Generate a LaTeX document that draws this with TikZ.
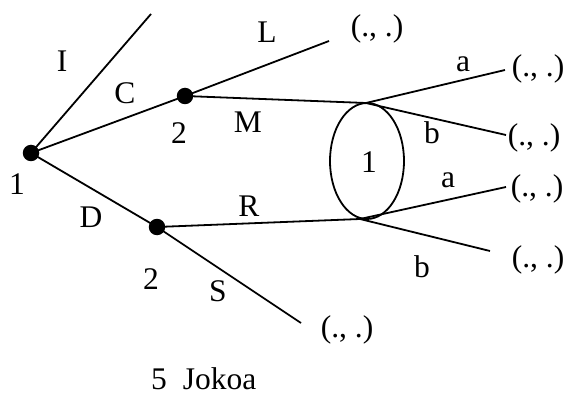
\documentclass[tikz,border=0pt]{standalone}
\usepackage{fontspec}
\setmainfont{Liberation Serif}
\usetikzlibrary{shapes.geometric}
\begin{document}
\begin{tikzpicture}[x=1pt,y=-1pt,
  edge/.style={line width=1.8pt},
  dot/.style={circle,fill=black,inner sep=0pt,minimum size=16.5pt},
  lab/.style={inner sep=0pt,anchor=base,font=\fontsize{31.5}{34}\selectfont},
  pay/.style={inner sep=0pt,anchor=center,font=\fontsize{31.5}{34}\selectfont}]
\useasboundingbox (0,0) rectangle (566,396);
% decision nodes
\node[dot] (r) at (31,153) {};
\node[dot] (p2a) at (185,96) {};
\node[dot] (p2b) at (157,227) {};
\coordinate (t1) at (366,103);
\coordinate (t2) at (360,219);
\node[draw,ellipse,line width=1.8pt,minimum width=74pt,minimum height=116pt,inner sep=0pt] (info) at (367,161) {};
% free ends
\coordinate (eI) at (151,14);
\coordinate (eL) at (329,41);
\coordinate (eS) at (301,323);
\coordinate (ea1) at (505,70);
\coordinate (eb1) at (506,135);
\coordinate (ea2) at (506,187);
\coordinate (eb2) at (490,251);
% edges
\draw[edge] (r.center) -- (eI);
\draw[edge] (r.center) -- (p2a.center);
\draw[edge] (r.center) -- (p2b.center);
\draw[edge] (p2a.center) -- (eL);
\draw[edge] (p2a.center) -- (t1);
\draw[edge] (p2b.center) -- (t2);
\draw[edge] (p2b.center) -- (eS);
\draw[edge] (t1) -- (ea1);
\draw[edge] (t1) -- (eb1);
\draw[edge] (t2) -- (ea2);
\draw[edge] (t2) -- (eb2);
% labels
\node[lab] (lI) at (62,72) {I};
\node[lab] (lC) at (125,104) {C};
\node[lab] (lL) at (267,43) {L};
\node[lab] (l2a) at (179,143) {2};
\node[lab] (lM) at (248,133) {M};
\node[lab] (l1) at (17,195) {1};
\node[lab] (lD) at (91,228) {D};
\node[lab] (lR) at (249,216) {R};
\node[lab] (l2b) at (151,289) {2};
\node[lab] (lS) at (218,301) {S};
\node[lab] (linfo) at (369,172) {1};
\node[lab] (la1) at (463,72) {a};
\node[lab] (lb1) at (432,144) {b};
\node[lab] (la2) at (448,188) {a};
\node[lab] (lb2) at (422,277) {b};
% payoffs
\node[pay] (pL) at (377,28.5) {(., .)};
\node[pay] (pa1) at (538,69) {(., .)};
\node[pay] (pb1) at (534,137.5) {(., .)};
\node[pay] (pa2) at (537,188.5) {(., .)};
\node[pay] (pb2) at (538,259.5) {(., .)};
\node[pay] (pS) at (347,330) {(., .)};
% caption
\node[lab,anchor=base west] (cap) at (151,389) {5\hspace{16pt}Jokoa};
\end{tikzpicture}
\end{document}
